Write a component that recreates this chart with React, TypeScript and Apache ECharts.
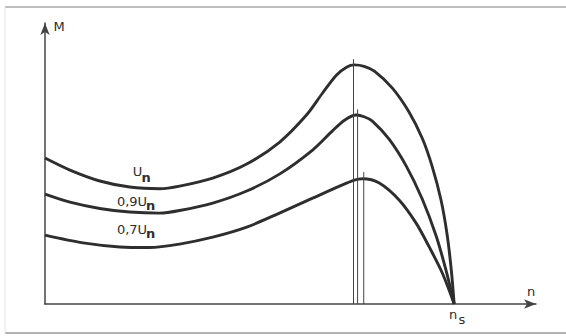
import React, { useEffect, useRef } from 'react';
import * as echarts from 'echarts';

// n as % of synchronous speed n_s (n_s = 100), M in arbitrary units
const curveUn: [number, number][] = [
  [0, 50.9], [6.1, 46.7], [13.4, 42.9], [20.7, 40.8], [28.0, 40.2], [32.9, 41.1],
  [41.0, 43.9], [49.3, 48.8], [57.3, 56.4], [63.9, 65.9], [67.8, 73.5], [71.2, 79.8],
  [73.7, 82.6], [75.6, 83.4], [78.0, 82.9], [80.5, 81.2], [84.9, 75.3], [89.0, 66.9],
  [92.2, 57.8], [94.6, 48.1], [96.8, 36.2], [98.3, 24.0], [99.3, 11.8], [100, 0],
];
const curve09Un: [number, number][] = [
  [0, 38.3], [6.1, 35.5], [13.4, 33.3], [20.7, 32.1], [28.0, 31.7], [32.9, 32.6],
  [41.0, 35.2], [49.3, 39.4], [57.3, 45.3], [65.4, 53.7], [70.2, 60.3], [73.2, 64.1],
  [76.1, 65.9], [78.0, 65.3], [80.0, 63.8], [84.1, 57.5], [88.3, 48.1], [92.2, 36.6],
  [95.6, 23.7], [98.0, 11.8], [100, 0],
];
const curve07Un: [number, number][] = [
  [0, 24.0], [9.3, 21.3], [18.3, 19.9], [25.6, 19.7], [32.9, 20.9], [41.0, 23.3],
  [49.3, 26.8], [57.3, 31.7], [65.4, 36.9], [72.0, 41.1], [75.6, 43.2], [77.6, 43.7],
  [81.7, 42.2], [86.6, 36.2], [90.7, 28.2], [93.9, 19.9], [97.1, 10.8], [100, 0],
];
// thin vertical lines marking the breakdown torque points [n, top M]
const peakMarks: [number, number][] = [[75.4, 85.4], [76.4, 67.9], [77.9, 46.0]];

const xMax = 120;
const yMax = 98;

const INK = '#2e2e2e';
const FONT = 'DejaVu Sans';

export default function App() {
  const ref = useRef<HTMLDivElement>(null);
  useEffect(() => {
    const chart = echarts.init(ref.current!, null, { renderer: 'svg' });
    const curveStyle = { color: INK, width: 2.9 };
    const mk = (x: number, y: number, text: string, size = 13, weight: any = 'normal') => ({
      type: 'text',
      x,
      y,
      style: {
        text,
        fill: INK,
        font: `${weight} ${size}px "${FONT}"`,
        textAlign: 'center',
        textVerticalAlign: 'middle',
      },
    });
    chart.setOption({
      animation: false,
      backgroundColor: '#fff',
      grid: { left: 45, right: 30, top: 23, bottom: 32 },
      xAxis: {
        type: 'value',
        min: 0,
        max: xMax,
        axisLine: {
          show: true,
          symbol: ['none', 'arrow'],
          symbolSize: [7, 12],
          lineStyle: { color: '#444', width: 1.5 },
        },
        axisTick: { show: false },
        axisLabel: { show: false },
        splitLine: { show: false },
      },
      yAxis: {
        type: 'value',
        min: 0,
        max: yMax,
        axisLine: {
          show: true,
          symbol: ['none', 'arrow'],
          symbolSize: [7, 12],
          lineStyle: { color: '#444', width: 1.5 },
        },
        axisTick: { show: false },
        axisLabel: { show: false },
        splitLine: { show: false },
      },
      series: [
        { type: 'line', data: curveUn, smooth: 0.3, showSymbol: false, lineStyle: curveStyle },
        { type: 'line', data: curve09Un, smooth: 0.3, showSymbol: false, lineStyle: curveStyle },
        { type: 'line', data: curve07Un, smooth: 0.3, showSymbol: false, lineStyle: curveStyle },
        ...peakMarks.map(([n, m]) => ({
          type: 'line',
          data: [[n, 0], [n, m]],
          showSymbol: false,
          lineStyle: { color: '#444', width: 1 },
        })),
      ],
      graphic: [
        { type: 'line', shape: { x1: 5, y1: 7, x2: 566, y2: 7 }, style: { stroke: '#a8a8a8', lineWidth: 1.5 } },
        { type: 'line', shape: { x1: 5, y1: 333, x2: 566, y2: 333 }, style: { stroke: '#999', lineWidth: 1.5 } },
        { type: 'line', shape: { x1: 5, y1: 7, x2: 5, y2: 333 }, style: { stroke: '#e4e4e4', lineWidth: 1 } },
        mk(59, 26, 'M'),
        mk(531, 291, 'n'),
        mk(453, 314, 'n'),
        mk(462, 319, 's'),
        mk(137.5, 171, 'U'),
        mk(146, 177, 'n', 13, 'bold'),
        mk(132, 201, '0,9U'),
        mk(150.5, 205, 'n', 13, 'bold'),
        mk(132, 229, '0,7U'),
        mk(150.5, 233, 'n', 13, 'bold'),
      ],
    });
    return () => chart.dispose();
  }, []);
  return (
    <div
      ref={ref}
      style={{ position: 'fixed', left: 0, top: 0, width: 566, height: 336, background: '#fff' }}
    />
  );
}
